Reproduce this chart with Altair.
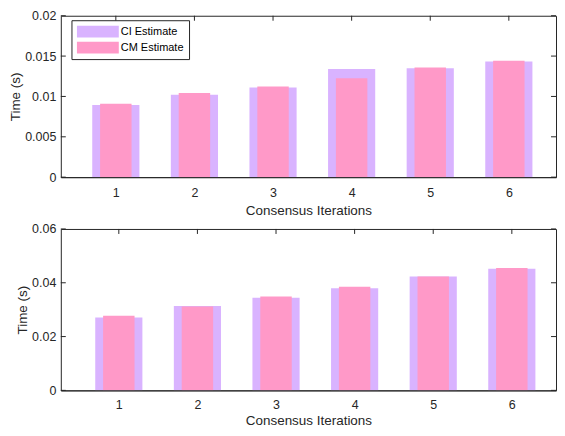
import altair as alt
import pandas as pd

# ---- data ----
iterations = [1, 2, 3, 4, 5, 6]
series_names = ["CI Estimate", "CM Estimate"]
series_colors = ["#D9B3FF", "#FF99C8"]
half_widths = [0.3, 0.2]  # bar half widths (CI wide, CM narrow)

top_ci = [0.00893, 0.01022, 0.01111, 0.01341, 0.01349, 0.01434]
top_cm = [0.00909, 0.01042, 0.01123, 0.01224, 0.01358, 0.01442]
bot_ci = [0.0271, 0.0314, 0.0344, 0.0380, 0.0423, 0.0452]
bot_cm = [0.0277, 0.0312, 0.0349, 0.0385, 0.0423, 0.0455]

x_ticks = [1, 2, 3, 4, 5, 6]
top_y_ticks = [0, 0.005, 0.01, 0.015, 0.02]
bot_y_ticks = [0, 0.02, 0.04, 0.06]

AX = "#262626"
W = 497
TICK = 5


def bar_frame(ci, cm):
    rows = []
    for name, hw, vals in zip(series_names, half_widths, [ci, cm]):
        for it, v in zip(iterations, vals):
            rows.append({"iter": it, "series": name, "hw": hw, "value": v})
    return pd.DataFrame(rows)


def panel(ci, cm, yticks, ymax, show_legend, H, xdom, lpad, tpad):
    xs = alt.Scale(domain=xdom, nice=False, zero=False)
    ys = alt.Scale(domain=[0, ymax], nice=False)
    xaxis = alt.Axis(values=x_ticks, format="d", title="Consensus Iterations",
                     grid=False, ticks=False, labelPadding=lpad, titlePadding=tpad,
                     domainColor=AX, domainWidth=1, zindex=1, labelAngle=0)
    yaxis = alt.Axis(values=yticks, format="~g", title="Time (s)", grid=False,
                     ticks=False, domain=False, labelPadding=5, titlePadding=2)
    x_enc = alt.X("lo:Q", scale=xs, axis=xaxis)
    y_enc = alt.Y("value:Q", scale=ys, axis=yaxis)

    if show_legend:
        legend = alt.Legend(title=None, orient="none", legendX=10.7, legendY=4.5,
                            direction="vertical", fillColor="white", strokeColor=AX,
                            padding=5.5, symbolType="M-1,-0.975H6V0.975H-1Z",
                            symbolSize=144, symbolStrokeWidth=0, symbolOpacity=1,
                            labelFontSize=11, labelColor="black", labelOffset=32,
                            rowPadding=4, cornerRadius=0)
    else:
        legend = None

    bars = alt.Chart(bar_frame(ci, cm)).transform_calculate(
        lo="datum.iter - datum.hw", hi="datum.iter + datum.hw"
    ).mark_rect().encode(
        x=x_enc,
        x2="hi:Q",
        y=y_enc,
        y2=alt.datum(0),
        color=alt.Color("series:N", scale=alt.Scale(domain=series_names, range=series_colors),
                        legend=legend),
    )

    xt = pd.DataFrame({"lo": x_ticks})
    yt = pd.DataFrame({"value": yticks})
    top_ticks = alt.Chart(xt).mark_rule(color=AX, strokeWidth=1).encode(
        x=x_enc, y=alt.value(0), y2=alt.value(TICK))
    left_ticks = alt.Chart(yt).mark_rule(color=AX, strokeWidth=1).encode(
        y=y_enc, x=alt.value(0), x2=alt.value(TICK))
    right_ticks = alt.Chart(yt).mark_rule(color=AX, strokeWidth=1).encode(
        y=y_enc, x=alt.value(W - TICK), x2=alt.value(W))

    return alt.layer(bars, top_ticks, left_ticks, right_ticks).properties(width=W, height=H)


top = panel(top_ci, top_cm, top_y_ticks, 0.02, True, 162, [0.3, 6.6], 9, 5)
bottom = panel(bot_ci, bot_cm, bot_y_ticks, 0.06, False, 162, [0.262, 6.562], 8, 3)

chart = alt.vconcat(top, bottom, spacing=52, bounds="flush").resolve_scale(
    color="independent"
).resolve_legend(color="independent").properties(
    padding={"left": 0, "top": 0, "right": 0, "bottom": 0}
).configure(
    font="Liberation Sans",
).configure_view(
    stroke=AX, strokeWidth=1
).configure_axis(
    labelFont="Liberation Sans", labelFontSize=12.5, labelColor=AX,
    titleFont="Liberation Sans", titleFontSize=13.5, titleColor=AX,
    titleFontWeight="normal",
).configure_legend(
    labelFont="Liberation Sans",
)

chart.save("out.html", embed_options={"renderer": "svg", "actions": False})
